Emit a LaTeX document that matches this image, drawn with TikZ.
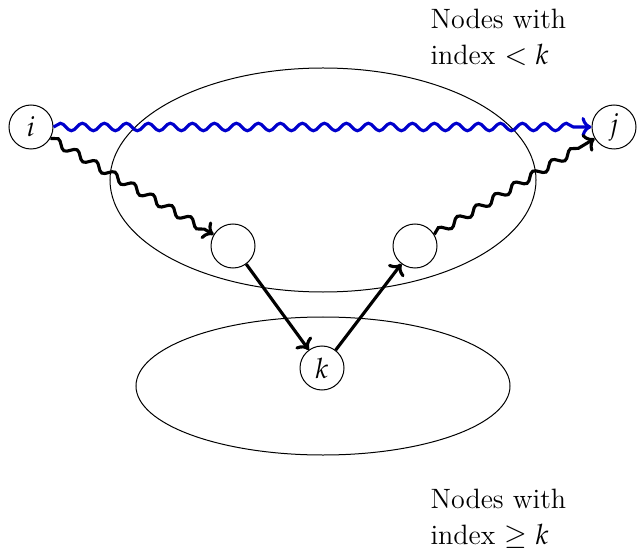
\documentclass[tikz,border=0pt]{standalone}
\usepackage{mathpazo}
\usetikzlibrary{decorations.pathmorphing,arrows.meta}
\begin{document}
\begin{tikzpicture}[x=0.4pt,y=-0.4pt,
  vert/.style={circle,draw,line width=0.4pt,minimum size=17.6pt,inner sep=0pt,font=\fontsize{11.2}{13}\selectfont},
  region/.style={draw,line width=0.4pt},
  tip/.style={-{To[length=4pt,width=8pt]}},
  wavy/.style={line width=1.25pt,tip,decorate,
    decoration={snake,amplitude=1.5pt,segment length=8.8pt,post length=4pt}},
  straight/.style={line width=1.25pt,tip},
  lab/.style={anchor=north west,inner sep=0pt,align=left,font=\fontsize{11.2}{14.4}\selectfont}
]
\useasboundingbox (0,0) rectangle (639,552);
\draw[region] (323,180) ellipse [x radius=85.2pt, y radius=44.8pt];
\draw[region] (323,386) ellipse [x radius=74.8pt, y radius=27.6pt];
\node[vert] (i) at (31,127) {$i$};
\node[vert] (j) at (614,127) {$j$};
\node[vert] (a) at (233,246) {};
\node[vert] (b) at (415,246) {};
\node[vert] (k) at (322,368) {$k$};
\draw[wavy,blue!80!black] (i) -- (j);
\draw[wavy] (i) -- (a);
\draw[wavy] (b) -- (j);
\draw[straight] (a) -- (k);
\draw[straight] (k) -- (b);
\node[lab] (top) at (430,9) {Nodes with\\index $<k$};
\node[lab] (bot) at (430,489) {Nodes with\\index $\geq k$};
\end{tikzpicture}
\end{document}
